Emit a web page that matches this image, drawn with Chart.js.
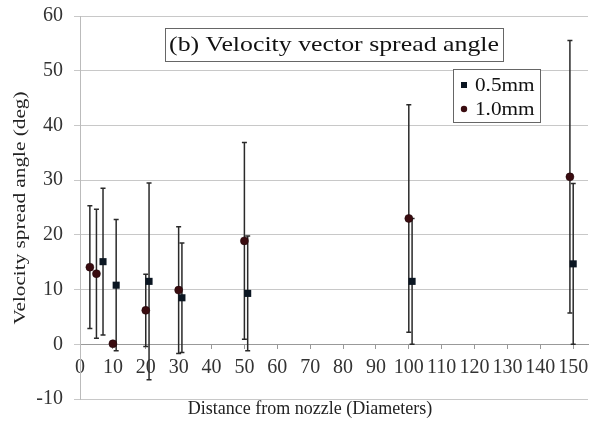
<!DOCTYPE html>
<html>
<head>
<meta charset="utf-8">
<style>
  body { margin: 0; background: #fff; }
</style>
</head>
<body>
<canvas id="myChart" width="593" height="421"></canvas>
<script src="https://cdn.jsdelivr.net/npm/chart.js@4.4.0/dist/chart.umd.min.js"></script>
<script>
  // 0.5mm nozzle (squares)
  const dist05 = [7, 11, 21, 31, 51, 101, 150];
  const angle05 = [15.1, 10.8, 11.5, 8.5, 9.3, 11.5, 14.7];
  const err05 = [13.4, 12, 18, 10, 10.5, 11.5, 14.7];

  // 1.0mm nozzle (circles)
  const dist10 = [3, 5, 10, 20, 30, 50, 100, 149];
  const angle10 = [14.1, 12.9, 0.1, 6.2, 9.9, 18.9, 23.0, 30.6];
  const err10 = [11.2, 11.8, 0, 6.6, 11.6, 18, 20.8, 24.9];

  const chartTitle = "(b) Velocity vector spread angle";
  const xTitle = "Distance from nozzle (Diameters)";
  const yTitle = "Velocity spread angle (deg)";

  const serif = "'Liberation Serif', 'DejaVu Serif', serif";

  function toPoints(xs, ys, es) {
    return xs.map((x, i) => ({ x: x, y: ys[i], err: es[i] }));
  }

  // text that is a bit wider than the font, like the original figure
  function wideText(c, txt, x, y, sx, rot) {
    c.save();
    c.translate(x, y);
    if (rot) c.rotate(rot);
    c.scale(sx, 1);
    c.fillText(txt, 0, 0);
    c.restore();
  }

  // error bars drawn under the markers
  const errorBars = {
    id: "errorBars",
    beforeDatasetsDraw(chart) {
      const c = chart.ctx;
      const xs = chart.scales.x;
      const ys = chart.scales.y;
      c.save();
      c.strokeStyle = "#2a2a2a";
      c.lineWidth = 1.5;
      chart.data.datasets.forEach((ds) => {
        ds.data.forEach((p) => {
          if (!p.err) return;
          const px = xs.getPixelForValue(p.x);
          const top = ys.getPixelForValue(p.y + p.err);
          const bot = ys.getPixelForValue(p.y - p.err);
          c.beginPath();
          c.moveTo(px, top);
          c.lineTo(px, bot);
          c.moveTo(px - 2.5, top);
          c.lineTo(px + 2.5, top);
          c.moveTo(px - 2.5, bot);
          c.lineTo(px + 2.5, bot);
          c.stroke();
        });
      });
      c.restore();
    },
  };

  // boxed title, boxed legend and the axis titles
  const decorations = {
    id: "decorations",
    afterDraw(chart) {
      const c = chart.ctx;
      c.save();
      c.strokeStyle = "#666";
      c.lineWidth = 1;

      // title box
      c.font = "21px " + serif;
      c.textAlign = "center";
      c.textBaseline = "middle";
      c.fillStyle = "#fff";
      c.fillRect(165, 28, 338, 33);
      c.strokeRect(165.5, 28.5, 338, 33);
      c.fillStyle = "#111";
      wideText(c, chartTitle, 334, 45, 1.23);

      // legend box
      const lx = 453, ly = 69, lw = 87, lh = 53;
      c.fillStyle = "#fff";
      c.fillRect(lx, ly, lw, lh);
      c.strokeRect(lx + 0.5, ly + 0.5, lw, lh);
      c.font = "18px " + serif;
      c.textAlign = "left";
      chart.data.datasets.forEach((ds, i) => {
        const yy = ly + 16 + i * 24;
        c.fillStyle = ds.backgroundColor;
        if (ds.pointStyle === "rect") {
          c.fillRect(lx + 8, yy - 3, 6, 6);
        } else {
          c.beginPath();
          c.arc(lx + 11, yy, 3.2, 0, Math.PI * 2);
          c.fill();
        }
        c.fillStyle = "#111";
        wideText(c, ds.label, lx + 22, yy + 1, 1.18);
      });

      // axis titles
      c.fillStyle = "#222";
      c.textAlign = "center";
      c.font = "18px " + serif;
      c.fillText(xTitle, 310, 409);
      c.font = "17px " + serif;
      wideText(c, yTitle, 21, 208, 1.25, -Math.PI / 2);
      c.restore();
    },
  };

  const ctx = document.getElementById("myChart").getContext("2d");
  const myChart = new Chart(ctx, {
    type: "scatter",
    data: {
      datasets: [
        {
          label: "0.5mm",
          data: toPoints(dist05, angle05, err05),
          pointStyle: "rect",
          pointRadius: 5,
          backgroundColor: "#0b1622",
          borderColor: "#0b1622",
          borderWidth: 0,
        },
        {
          label: "1.0mm",
          data: toPoints(dist10, angle10, err10),
          pointStyle: "circle",
          pointRadius: 4,
          backgroundColor: "#3a0c10",
          borderColor: "#1a0508",
          borderWidth: 0.5,
        },
      ],
    },
    options: {
      responsive: false,
      animation: false,
      layout: { padding: { left: 0, right: 3, top: 16, bottom: 22 } },
      plugins: {
        legend: { display: false },
        tooltip: { enabled: false },
      },
      scales: {
        x: {
          type: "linear",
          position: { y: 0 },
          min: 0,
          max: 154.5,
          afterFit(scale) {
            scale.paddingLeft = 0;
            scale.paddingRight = 0;
          },
          border: { color: "#999", width: 1 },
          grid: {
            drawOnChartArea: false,
            drawTicks: true,
            tickLength: 4,
            color: "#999",
          },
          ticks: {
            stepSize: 10,
            includeBounds: false,
            autoSkip: false,
            maxRotation: 0,
            minRotation: 0,
            padding: 7,
            color: "#333",
            font: { family: serif, size: 20 },
          },
        },
        y: {
          type: "linear",
          min: -10,
          max: 60,
          afterFit(scale) {
            scale.width = 80;
            scale.paddingTop = 0;
            scale.paddingBottom = 0;
          },
          border: { color: "#bbb", width: 1 },
          grid: { color: "#c8c8c8", lineWidth: 1, tickLength: 6 },
          ticks: {
            stepSize: 10,
            padding: 11,
            color: "#333",
            font: { family: serif, size: 20 },
          },
        },
      },
    },
    plugins: [errorBars, decorations],
  });
</script>
</body>
</html>
